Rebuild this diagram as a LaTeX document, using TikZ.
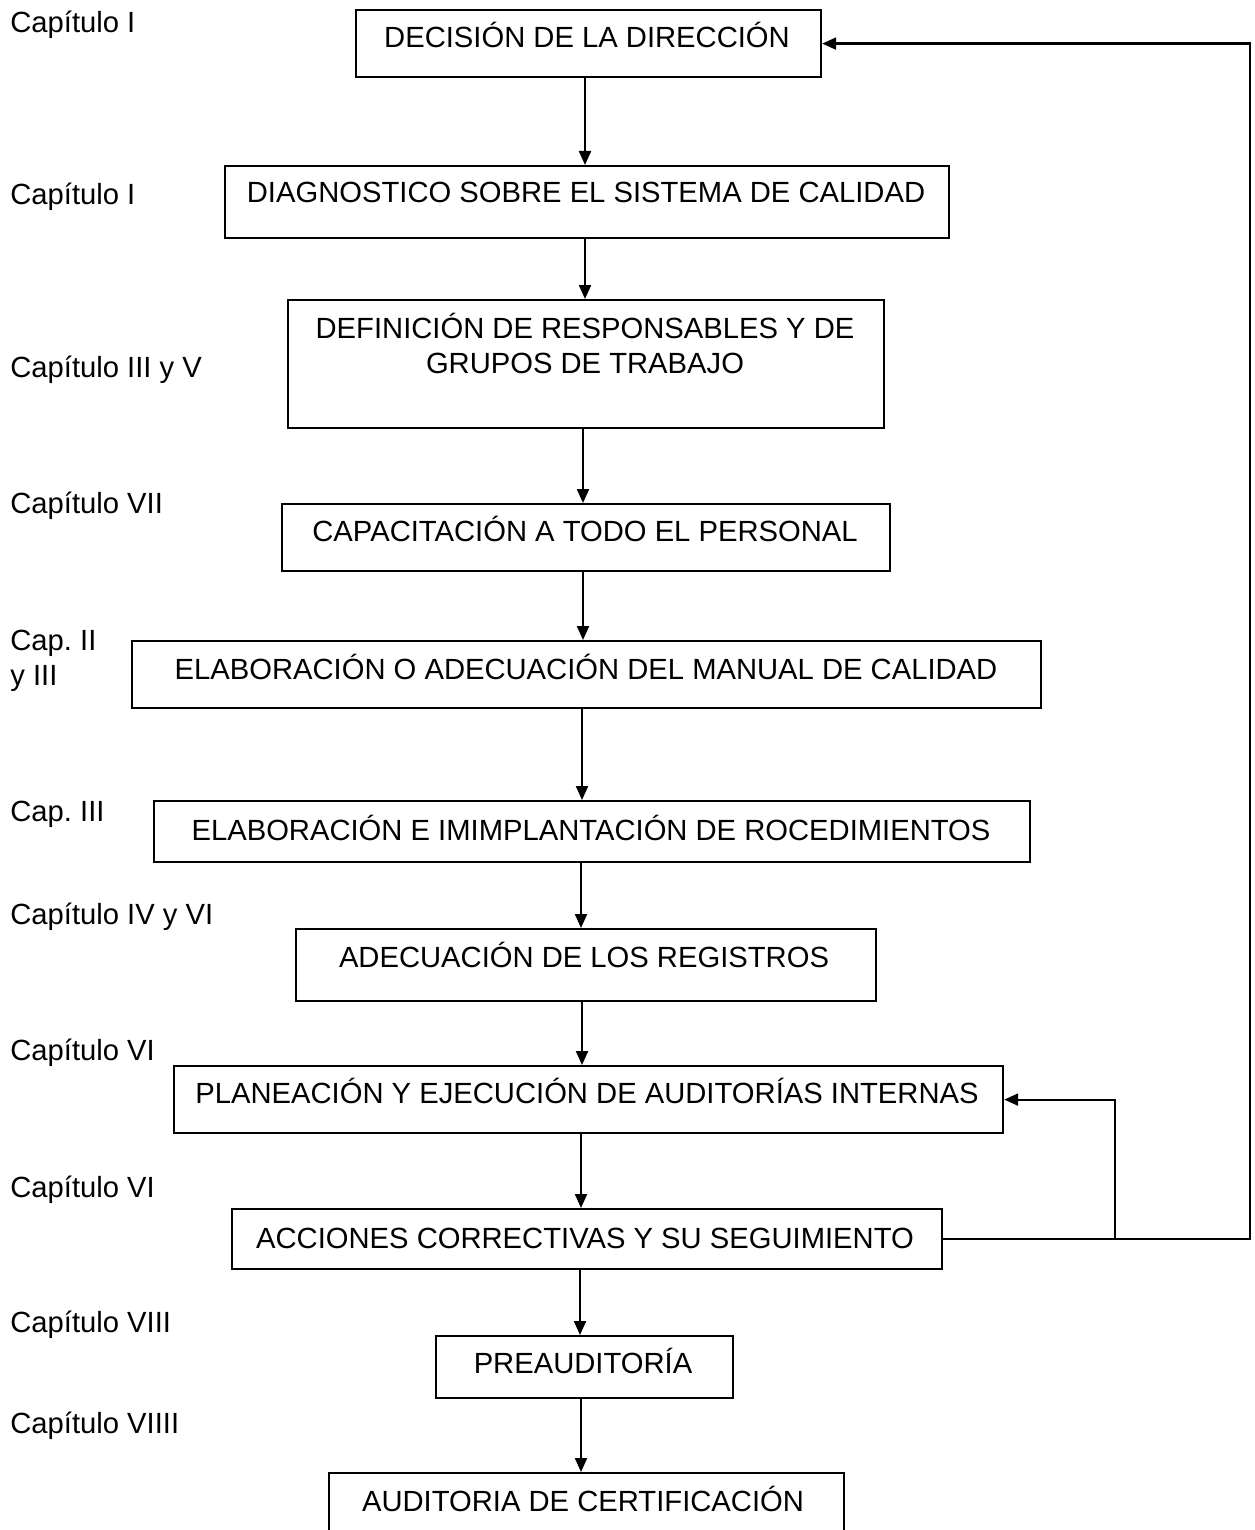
\documentclass[tikz,border=0pt]{standalone}
\usepackage{fontspec}
\setmainfont{Liberation Sans}
\usetikzlibrary{arrows.meta}
\begin{document}
\frenchspacing
\begin{tikzpicture}[x=0.5pt,y=-0.5pt,
  every node/.style={font=\fontsize{14.6pt}{17.5pt}\selectfont},
  box/.style={draw, line width=1.1pt, rectangle, anchor=north west, inner sep=0pt},
  txt/.style={anchor=base, inner sep=0pt, align=center},
  lbl/.style={anchor=base west, inner sep=0pt, align=left},
  arr/.style={line width=1.1pt, -{Triangle[length=7pt,width=6pt]}}]
\useasboundingbox (0,0) rectangle (1254,1530);
% boxes
\node[box, minimum width=232.5pt, minimum height=33.5pt] (b1) at (355,9) {};
\node[box, minimum width=362pt, minimum height=36pt] (b2) at (224,165) {};
\node[box, minimum width=298pt, minimum height=64pt] (b3) at (287,299) {};
\node[box, minimum width=304pt, minimum height=33.5pt] (b4) at (281,503) {};
\node[box, minimum width=454.5pt, minimum height=33.5pt] (b5) at (131,640) {};
\node[box, minimum width=438pt, minimum height=30.5pt] (b6) at (153,800) {};
\node[box, minimum width=290pt, minimum height=36pt] (b7) at (295,928) {};
\node[box, minimum width=414.5pt, minimum height=33.5pt] (b8) at (173,1065) {};
\node[box, minimum width=355pt, minimum height=30pt] (b9) at (231,1208) {};
\node[box, minimum width=148.5pt, minimum height=31pt] (b10) at (435,1335) {};
\node[box, minimum width=257.5pt, minimum height=40pt] (b11) at (328,1472) {};
% box texts
\node[txt] (t1) at (587,48) {DECISIÓN DE LA DIRECCIÓN};
\node[txt] (t2) at (586,203) {DIAGNOSTICO SOBRE EL SISTEMA DE CALIDAD};
\node[txt] (t3) at (585,373) {DEFINICIÓN DE RESPONSABLES Y DE\\GRUPOS DE TRABAJO};
\node[txt] (t4) at (585,541) {CAPACITACIÓN A TODO EL PERSONAL};
\node[txt] (t5) at (586,679) {ELABORACIÓN O ADECUACIÓN DEL MANUAL DE CALIDAD};
\node[txt] (t6) at (591,840) {ELABORACIÓN E IMIMPLANTACIÓN DE ROCEDIMIENTOS};
\node[txt] (t7) at (584,967) {ADECUACIÓN DE LOS REGISTROS};
\node[txt] (t8) at (587,1103) {PLANEACIÓN Y EJECUCIÓN DE AUDITORÍAS INTERNAS};
\node[txt] (t9) at (585,1248) {ACCIONES CORRECTIVAS Y SU SEGUIMIENTO};
\node[txt] (t10) at (583,1373) {PREAUDITORÍA};
\node[txt] (t11) at (583,1511) {AUDITORIA DE CERTIFICACIÓN};
% labels
\node[lbl] (l1) at (10,33) {Capítulo I};
\node[lbl] (l2) at (10,205) {Capítulo I};
\node[lbl] (l3) at (10,377) {Capítulo III y V};
\node[lbl] (l4) at (10,513) {Capítulo VII};
\node[lbl] (l5) at (10,685) {Cap. II\\y III};
\node[lbl] (l6) at (10,821) {Cap. III};
\node[lbl] (l7) at (10,924) {Capítulo IV y VI};
\node[lbl] (l8) at (10,1060) {Capítulo VI};
\node[lbl] (l9) at (10,1197) {Capítulo VI};
\node[lbl] (l10) at (10,1332) {Capítulo VIII};
\node[lbl] (l11) at (10,1433) {Capítulo VIIII};
% vertical arrows
\draw[arr] (585,0 |- b1.south) -- (585,0 |- b2.north);
\draw[arr] (585,0 |- b2.south) -- (585,0 |- b3.north);
\draw[arr] (583,0 |- b3.south) -- (583,0 |- b4.north);
\draw[arr] (583,0 |- b4.south) -- (583,0 |- b5.north);
\draw[arr] (582,0 |- b5.south) -- (582,0 |- b6.north);
\draw[arr] (581,0 |- b6.south) -- (581,0 |- b7.north);
\draw[arr] (582,0 |- b7.south) -- (582,0 |- b8.north);
\draw[arr] (581,0 |- b8.south) -- (581,0 |- b9.north);
\draw[arr] (580,0 |- b9.south) -- (580,0 |- b10.north);
\draw[arr] (581,0 |- b10.south) -- (581,0 |- b11.north);
% feedback loops
\coordinate (j) at (1115,0 |- b9.east);
\draw[arr] (b9.east) -| (1250,0 |- b1.east) -- (b1.east);
\draw[arr] (j) |- (b8.east);
\end{tikzpicture}
\end{document}
